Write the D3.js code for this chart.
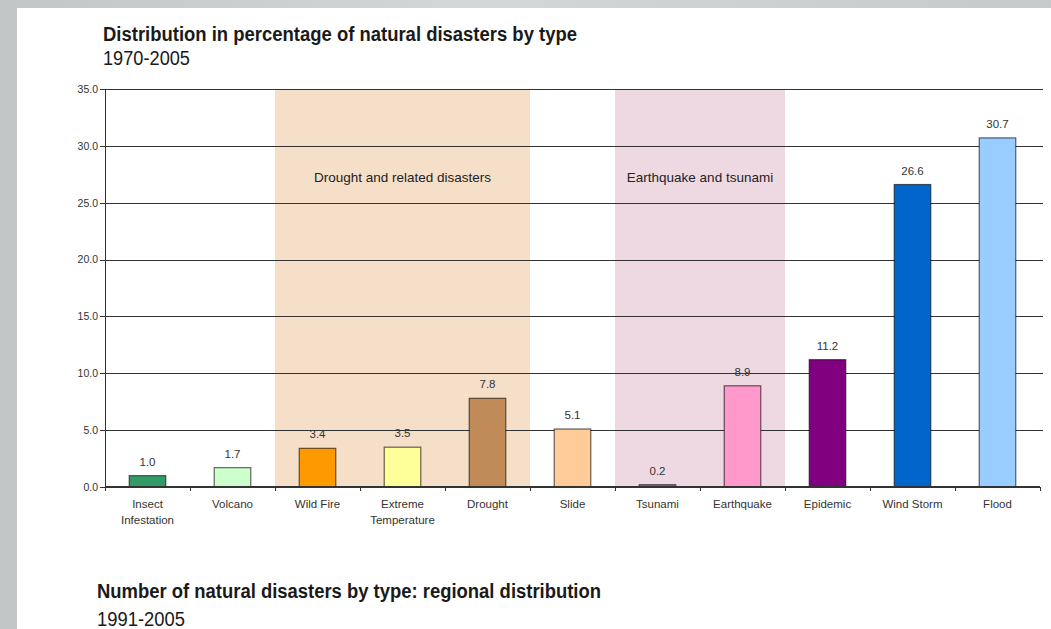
<!DOCTYPE html>
<meta charset="utf-8">
<style>

body {
  margin: 0;
  background: #c8cccd;
}

svg {
  display: block;
}

.title {
  font-family: "Liberation Sans", Arial, sans-serif;
  fill: #1a1a1a;
}

.axis text {
  font: 10.5px "Liberation Sans", Arial, sans-serif;
  fill: #333;
}

.axis path,
.axis line {
  stroke: #333;
  shape-rendering: crispEdges;
}

.grid line {
  stroke: #333;
  stroke-width: 1.2;
}

.value {
  font: 11.5px "Liberation Sans", Arial, sans-serif;
  fill: #333;
  text-anchor: middle;
}

.band-label {
  font: 13.5px "Liberation Sans", Arial, sans-serif;
  fill: #222;
  text-anchor: middle;
}

</style>
<body>
<svg width="1051" height="629"></svg>
</body>

<script src="https://d3js.org/d3.v7.min.js"></script>
<script>

// data
var categories = ["Insect Infestation", "Volcano", "Wild Fire", "Extreme Temperature", "Drought",
                  "Slide", "Tsunami", "Earthquake", "Epidemic", "Wind Storm", "Flood"];
var values = [1.0, 1.7, 3.4, 3.5, 7.8, 5.1, 0.2, 8.9, 11.2, 26.6, 30.7];
var colors = ["#339966", "#ccffcc", "#ff9900", "#ffff99", "#c08a59", "#ffcc99",
              "#8866bb", "#ff99cc", "#800080", "#0066cc", "#99ccff"];
var yTicks = [0, 5, 10, 15, 20, 25, 30, 35];

var groupLabels = ["Drought and related disasters", "Earthquake and tsunami"];
var groupFirst = ["Wild Fire", "Tsunami"];
var groupLast = ["Drought", "Earthquake"];
var groupColors = ["#f6dfc8", "#eed9e2"];
var groupLabelValue = 27.2;

var svg = d3.select("svg");

// grey backdrop + white page
var defs = svg.append("defs");
var grad = defs.append("linearGradient").attr("id", "bg").attr("x1", 0).attr("x2", 1);
grad.append("stop").attr("offset", 0).attr("stop-color", "#c2c6c7");
grad.append("stop").attr("offset", 0.45).attr("stop-color", "#d3d7d8");
grad.append("stop").attr("offset", 1).attr("stop-color", "#c6cacb");
svg.append("rect").attr("width", 1051).attr("height", 629).attr("fill", "url(#bg)");
svg.append("rect").attr("x", 17).attr("y", 8).attr("width", 1034).attr("height", 621).attr("fill", "#fff");

var margin = {top: 89, left: 105},
    width = 935,
    height = 398;

var g = svg.append("g")
    .attr("transform", "translate(" + margin.left + "," + margin.top + ")");

var x = d3.scaleBand()
    .domain(categories)
    .range([0, width])
    .paddingInner(0.57)
    .paddingOuter(0.285);

var xb = d3.scaleBand().domain(categories).range([0, width]);

var y = d3.scaleLinear()
    .domain([0, 35])
    .range([height, 0]);

// shaded groups
groupLabels.forEach(function(label, i) {
  var x0 = xb(groupFirst[i]), x1 = xb(groupLast[i]) + xb.bandwidth();
  g.append("rect")
      .attr("x", x0)
      .attr("y", y(35))
      .attr("width", x1 - x0)
      .attr("height", y(0) - y(35))
      .attr("fill", groupColors[i]);
  g.append("text")
      .attr("class", "band-label")
      .attr("x", (x0 + x1) / 2)
      .attr("y", y(groupLabelValue))
      .attr("dy", "0.35em")
      .text(label);
});

// value labels (sit under the grid lines)
g.selectAll(".value")
    .data(values)
  .enter().append("text")
    .attr("class", "value")
    .attr("x", function(d, i) { return x(categories[i]) + x.bandwidth() / 2; })
    .attr("y", function(d) { return y(d) - 10; })
    .text(function(d) { return d.toFixed(1); });

// grid
g.append("g")
    .attr("class", "grid")
  .selectAll("line")
    .data(yTicks.slice(1))
  .enter().append("line")
    .attr("x1", 0)
    .attr("x2", width + 3)
    .attr("y1", function(d) { return Math.round(y(d)) + 0.5; })
    .attr("y2", function(d) { return Math.round(y(d)) + 0.5; });

// bars
g.selectAll(".bar")
    .data(values)
  .enter().append("rect")
    .attr("class", "bar")
    .attr("x", function(d, i) { return x(categories[i]); })
    .attr("y", function(d) { return y(d); })
    .attr("width", x.bandwidth())
    .attr("height", function(d) { return y(0) - y(d); })
    .attr("fill", function(d, i) { return colors[i]; })
    .attr("stroke", "#000")
    .attr("stroke-opacity", 0.6)
    .attr("stroke-width", 1.2);

// y axis
g.append("g")
    .attr("class", "axis axis--y")
    .call(d3.axisLeft(y).tickValues(yTicks).tickFormat(d3.format(".1f")).tickSize(5).tickSizeOuter(0))
    .call(function(a) { a.select(".domain").attr("stroke-width", 1.5); })
    .selectAll("text").attr("x", -7);

// x axis with ticks on band boundaries
var xa = g.append("g")
    .attr("class", "axis axis--x")
    .attr("transform", "translate(0," + height + ")");
xa.append("line").attr("x1", 0).attr("x2", width).attr("stroke-width", 1.5);
xa.selectAll(".tick-b")
    .data(categories.concat([null]))
  .enter().append("line")
    .attr("x1", function(d, i) { return i * xb.step() + 0.5; })
    .attr("x2", function(d, i) { return i * xb.step() + 0.5; })
    .attr("y1", 0)
    .attr("y2", 4);

var lab = xa.selectAll(".lab")
    .data(categories)
  .enter().append("text")
    .attr("x", function(d) { return xb(d) + xb.bandwidth() / 2; })
    .attr("y", 21)
    .attr("text-anchor", "middle")
    .style("font-size", "11.5px");

lab.each(function(d) {
  var t = d3.select(this),
      words = d.split(" ");
  if (d === "Insect Infestation" || d === "Extreme Temperature") {
    t.append("tspan").attr("x", t.attr("x")).text(words[0]);
    t.append("tspan").attr("x", t.attr("x")).attr("dy", 16).text(words[1]);
  } else {
    t.text(d);
  }
});

// titles (narrow face squeezed to the original widths)
function title(txt, x0, y0, w, bold) {
  svg.append("text").attr("class", "title")
      .attr("x", x0).attr("y", y0)
      .attr("textLength", w)
      .attr("lengthAdjust", "spacingAndGlyphs")
      .style("font-size", "20px")
      .style("font-weight", bold ? "bold" : "normal")
      .text(txt);
}
title("Distribution in percentage of natural disasters by type", 103, 41, 474, true);
title("1970-2005", 103, 65, 87, false);
title("Number of natural disasters by type: regional distribution", 97, 598, 504, true);
title("1991-2005", 97, 626, 88, false);

</script>
